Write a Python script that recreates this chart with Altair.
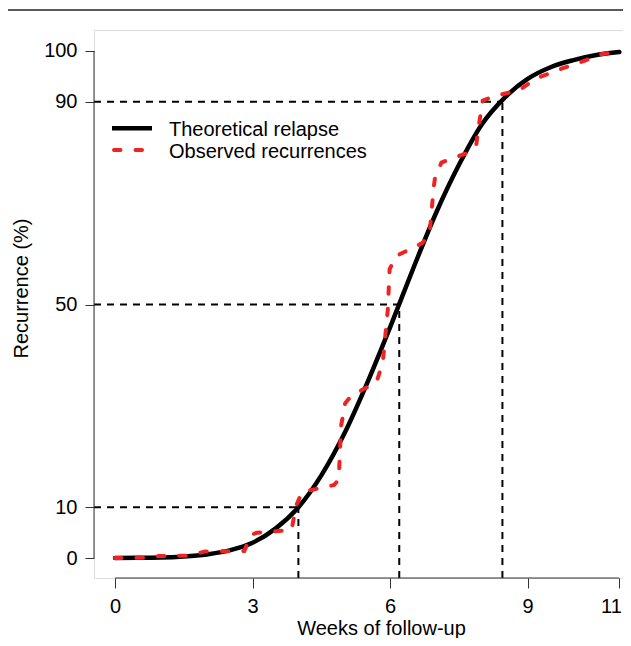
import altair as alt
import pandas as pd

# ---- data ----
weeks_theory = [0, 0.5, 1, 1.5, 2, 2.5, 3, 3.5, 4, 4.5, 5, 5.5, 6, 6.5, 7, 7.5,
                8, 8.5, 9, 9.5, 10, 10.5, 11]
pct_theory = [0, 0.05, 0.1, 0.3, 0.7, 1.5, 3.0, 5.8, 10, 16.3, 24.5, 34.5, 45.5,
              57, 68, 77.5, 85.5, 90.8, 94.5, 96.8, 98.2, 99.2, 99.8]

weeks_obs = [0, 0.75, 0.95, 1.6, 1.97, 2.82, 2.97, 3.1, 3.85, 3.95, 4.08, 4.78,
             4.88, 4.93, 5.02, 5.16, 5.7, 5.84, 5.95, 5.99, 6.14, 6.7, 6.86,
             6.95, 6.98, 7.12, 7.66, 7.88, 7.93, 8.02, 8.24, 8.82, 9.19, 9.77,
             10.28, 10.49, 10.97, 11]
pct_obs = [0, 0.05, 0.4, 0.45, 1.3, 1.4, 4.6, 5.0, 5.5, 10.3, 13.0, 14.4,
           15.5, 26, 30.5, 32.1, 34.6, 38.5, 49, 57, 59.6, 62.1, 63.8,
           73, 75, 78, 79.8, 81.5, 85, 90.2, 91, 92.3, 94.6, 96.6,
           98.2, 99.2, 99.9, 100]

ref_pct = [10, 50, 90]
ref_weeks = [4.0, 6.2, 8.45]

x_ticks = [0, 3, 6, 9, 11]
y_ticks = [0, 10, 50, 90, 100]
series_names = ["Theoretical relapse", "Observed recurrences"]
series_colors = ["#000000", "#ee2424"]

x_min, x_max = -0.458, 11.08
y_min, y_max = -3.94, 104.14

FONT = "Liberation Sans"
FS = 20

xs = alt.Scale(domain=[x_min, x_max], nice=False, zero=False)
ys = alt.Scale(domain=[y_min, y_max], nice=False, zero=False)
common = dict(domain=False, grid=False, tickColor="#333", tickWidth=1,
              labelFontSize=FS, labelColor="#000", labelFont=FONT,
              titleFont=FONT, titleFontSize=FS, titleFontWeight="normal",
              titleColor="#000", titleBaseline="alphabetic")
x_axis = alt.Axis(values=x_ticks, title="Weeks of follow-up", tickSize=10,
                  labelPadding=8, titleX=287, titleY=56, titleAnchor="middle",
                  labelFlush=5, labelFlushOffset=2, **common)
y_axis = alt.Axis(values=y_ticks, title="Recurrence (%)", tickSize=9,
                  labelPadding=8, titleX=-67, titleY=258, titleAngle=270,
                  titleAlign="center", labelFlush=False, **common)

theory = pd.DataFrame({"w": weeks_theory, "p": pct_theory})
obs = pd.DataFrame({"w": weeks_obs, "p": pct_obs})
refs = pd.DataFrame({"w": ref_weeks, "p": ref_pct, "x0": [x_min] * 3,
                     "y0": [y_min] * 3})

X = lambda f: alt.X(f, type="quantitative", scale=xs, axis=x_axis)
Y = lambda f: alt.Y(f, type="quantitative", scale=ys, axis=y_axis)

ref_h = alt.Chart(refs).mark_rule(color="#000", strokeWidth=2,
                                  strokeDash=[7, 6]).encode(
    x=X("x0"), x2="w", y=Y("p"))
ref_v = alt.Chart(refs).mark_rule(color="#000", strokeWidth=2,
                                  strokeDash=[7, 6]).encode(
    x=X("w"), y=Y("y0"), y2="p")

yaxis_line = alt.Chart(pd.DataFrame({"x": [x_min], "a": [y_ticks[0]],
                                     "b": [y_ticks[-1]]})).mark_rule(
    color="#333", strokeWidth=1).encode(x=X("x"), y=Y("a"), y2="b")
xaxis_line = alt.Chart(pd.DataFrame({"y": [y_min], "a": [x_ticks[0]],
                                     "b": [x_ticks[-1]]})).mark_rule(
    color="#333", strokeWidth=1).encode(y=Y("y"), x=X("a"), x2="b")

theory_line = alt.Chart(theory).mark_line(
    color=series_colors[0], strokeWidth=4.5, interpolate="monotone",
    strokeCap="round").encode(x=X("w"), y=Y("p"))
obs_line = alt.Chart(obs).mark_line(
    color=series_colors[1], strokeWidth=4, strokeDash=[6.5, 15],
    strokeCap="round").encode(x=X("w"), y=Y("p"))

# legend (drawn manually, upper left inside the plot)
leg_line_y = [98.3, 120]
leg_text_y = [106, 128.3]
leg_layers = []
for name, col, ly, ty, dash in zip(series_names, series_colors, leg_line_y,
                                   leg_text_y, [[1, 0], [6.5, 15]]):
    solid = dash == [1, 0]
    leg_layers.append(
        alt.Chart(pd.DataFrame({"n": [name]})).mark_rule(
            color=col, strokeWidth=4.5 if solid else 4,
            strokeDash=dash, strokeCap="butt" if solid else "round"
        ).encode(x=alt.value(18 if solid else 20), x2=alt.value(58),
                 y=alt.value(ly)))
    leg_layers.append(
        alt.Chart(pd.DataFrame({"n": [name]})).mark_text(
            align="left", baseline="alphabetic", font=FONT, fontSize=FS,
            color="#000").encode(x=alt.value(75), y=alt.value(ty), text="n:N"))

top_line = alt.Chart(pd.DataFrame({"n": [0]})).mark_rule(
    color="#222", strokeWidth=1.5).encode(
    x=alt.value(-86), x2=alt.value(529), y=alt.value(-20))

chart = alt.layer(ref_h, ref_v, yaxis_line, xaxis_line, theory_line, obs_line,
                  *leg_layers, top_line).properties(
    width=529, height=548,
    autosize=alt.AutoSizeParams(type="none"),
    padding={"left": 86, "top": 22, "right": 0, "bottom": 60},
).configure_view(stroke=None).configure(background="white")

chart.save("out.html", embed_options={"renderer": "svg", "actions": False})
